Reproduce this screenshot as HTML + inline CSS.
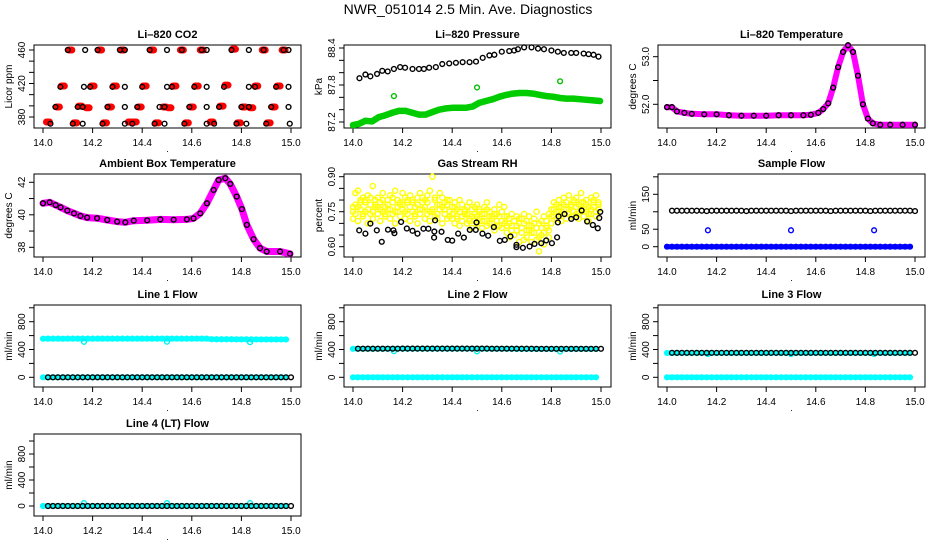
<!DOCTYPE html>
<html><head><meta charset="utf-8"><style>
html,body{margin:0;padding:0;background:#fff;}
svg{display:block;font-family:"Liberation Sans",sans-serif;}
</style></head><body>
<svg id="chart" width="936" height="540" viewBox="0 0 936 540">
<text x="468" y="14" text-anchor="middle" font-size="14">NWR_051014  2.5 Min. Ave. Diagnostics</text>
</svg>
<script>
// ---------- data ----------
const xTicks = [14.0,14.2,14.4,14.6,14.8,15.0];
const xTickLabels = ["14.0","14.2","14.4","14.6","14.8","15.0"];
const grid50 = [14.00,14.02,14.04,14.06,14.08,14.10,14.12,14.14,14.16,14.18,14.20,14.22,14.24,14.26,14.28,14.30,14.32,14.34,14.36,14.38,14.40,14.42,14.44,14.46,14.48,14.50,14.52,14.54,14.56,14.58,14.60,14.62,14.64,14.66,14.68,14.70,14.72,14.74,14.76,14.78,14.80,14.82,14.84,14.86,14.88,14.90,14.92,14.94,14.96,14.98];
const gridB = [14.02,14.04,14.06,14.08,14.10,14.12,14.14,14.16,14.18,14.20,14.22,14.24,14.26,14.28,14.30,14.32,14.34,14.36,14.38,14.40,14.42,14.44,14.46,14.48,14.50,14.52,14.54,14.56,14.58,14.60,14.62,14.64,14.66,14.68,14.70,14.72,14.74,14.76,14.78,14.80,14.82,14.84,14.86,14.88,14.90,14.92,14.94,14.96,14.98,15.00];
const outlierT = [14.165,14.5,14.835];

// CO2
const co2BlackT = [14.10,14.17,14.22,14.31,14.33,14.43,14.50,14.56,14.64,14.66,14.76,14.83,14.89,14.97,14.99,
 14.07,14.165,14.19,14.28,14.33,14.40,14.50,14.52,14.61,14.66,14.73,14.83,14.855,14.94,14.99,
 14.05,14.14,14.16,14.26,14.33,14.38,14.47,14.49,14.59,14.66,14.71,14.80,14.83,14.92,14.99,
 14.03,14.12,14.16,14.24,14.33,14.36,14.45,14.49,14.57,14.66,14.69,14.78,14.82,14.90,14.995];
const co2BlackV = [460,460,460,460,460,460,460,460,460,460,460,460,460,460,460,
 416,416,416,416,416,416,416,416,416,416,416,416,416,416,416,
 392,392,392,392,392,392,392,392,392,392,392,392,392,392,392,
 372,372,372,372,372,372,372,372,372,372,372,372,372,372,372];
const co2RedT = [14.10,14.22,14.31,14.43,14.55,14.63,14.76,14.88,14.96,
 14.07,14.19,14.28,14.40,14.52,14.61,14.73,14.85,14.94,
 14.05,14.14,14.17,14.26,14.38,14.48,14.50,14.59,14.71,14.80,14.83,14.92,
 14.01,14.12,14.24,14.34,14.36,14.45,14.57,14.67,14.78,14.90];
const co2RedV = [460,460,460,460,460,460,461,460,460,
 417,417,417,417,417,417,418,417,417,
 392,393,391,392,392,392,391,392,393,392,391,392,
 374,373,373,374,374,373,373,374,373,373];

// Pressure
const presBlackT = [14.026,14.05,14.07,14.097,14.118,14.14,14.165,14.19,14.21,14.24,14.266,14.286,14.307,14.334,14.36,14.388,14.415,14.442,14.47,14.496,14.523,14.55,14.57,14.6,14.63,14.65,14.665,14.69,14.72,14.746,14.77,14.8,14.826,14.85,14.88,14.9,14.93,14.95,14.97,14.99];
const presBlackV = [87.91,87.97,87.94,87.98,88.03,88.02,88.06,88.09,88.08,88.06,88.06,88.06,88.08,88.09,88.14,88.15,88.16,88.17,88.17,88.18,88.24,88.28,88.29,88.34,88.35,88.36,88.38,88.41,88.41,88.39,88.38,88.36,88.34,88.32,88.32,88.32,88.31,88.30,88.29,88.26];
const presGreenT = [14.0,14.023,14.05,14.077,14.104,14.131,14.158,14.185,14.212,14.239,14.266,14.293,14.32,14.347,14.374,14.401,14.428,14.455,14.482,14.509,14.536,14.564,14.591,14.618,14.645,14.672,14.699,14.726,14.753,14.78,14.807,14.834,14.86,14.888,14.915,14.942,14.969,14.996];
const presGreenV = [87.15,87.17,87.22,87.21,87.28,87.31,87.35,87.38,87.38,87.35,87.32,87.32,87.36,87.40,87.42,87.43,87.43,87.43,87.45,87.51,87.54,87.57,87.61,87.64,87.66,87.67,87.67,87.66,87.64,87.62,87.61,87.59,87.58,87.58,87.57,87.56,87.55,87.54];
const presGreenOutV = [87.62,87.76,87.86];

// Li-820 temperature
const tempT = [14.00,14.02,14.04,14.07,14.10,14.15,14.20,14.25,14.30,14.35,14.40,14.45,14.50,14.55,14.58,14.61,14.63,14.65,14.67,14.69,14.71,14.73,14.75,14.77,14.79,14.81,14.83,14.86,14.90,14.95,15.00];
const tempV = [51.94,51.94,51.85,51.82,51.80,51.79,51.79,51.77,51.76,51.76,51.76,51.77,51.77,51.77,51.78,51.82,51.90,52.02,52.35,52.78,53.10,53.24,53.10,52.60,52.00,51.70,51.60,51.57,51.57,51.57,51.57];

// Ambient temperature
const ambT = [14.0,14.027,14.051,14.071,14.098,14.125,14.151,14.178,14.218,14.259,14.299,14.332,14.366,14.42,14.473,14.527,14.58,14.607,14.634,14.661,14.688,14.708,14.735,14.755,14.781,14.802,14.822,14.849,14.875,14.902,14.956,14.996];
const ambV = [40.71,40.77,40.6,40.46,40.26,40.09,39.93,39.83,39.79,39.68,39.58,39.54,39.64,39.66,39.72,39.7,39.72,39.78,40.09,40.71,41.53,42.14,42.25,41.9,41.12,40.35,39.38,38.5,37.95,37.74,37.74,37.6];

// RH
const rhT = [14.00,14.01,14.02,14.03,14.04,14.05,14.06,14.07,14.08,14.09,14.10,14.11,14.12,14.13,14.14,14.15,14.16,14.17,14.18,14.19,14.20,14.21,14.22,14.23,14.24,14.25,14.26,14.27,14.28,14.29,14.30,14.31,14.32,14.33,14.34,14.35,14.36,14.37,14.38,14.39,14.40,14.41,14.42,14.43,14.44,14.45,14.46,14.47,14.48,14.49,14.50,14.51,14.52,14.53,14.54,14.55,14.56,14.57,14.58,14.59,14.60,14.61,14.62,14.63,14.64,14.65,14.66,14.67,14.68,14.69,14.70,14.71,14.72,14.73,14.74,14.75,14.76,14.77,14.78,14.79,14.80,14.81,14.82,14.83,14.84,14.85,14.86,14.87,14.88,14.89,14.90,14.91,14.92,14.93,14.94,14.95,14.96,14.97,14.98,14.99];
const rhYellowA = [.77,.83,.84,.80,.81,.79,.82,.78,.86,.80, .81,.79,.83,.77,.80,.82,.79,.84,.80,.78, .83,.81,.79,.82,.80,.77,.81,.83,.79,.80, .82,.84,.90,.80,.78,.83,.81,.79,.78,.80, .77,.79,.76,.80,.78,.75,.77,.79,.76,.74, .78,.76,.74,.77,.79,.75,.73,.76,.74,.78, .75,.77,.73,.72,.74,.71,.73,.70,.72,.74, .71,.73,.69,.72,.75,.70,.68,.73,.71,.74, .76,.79,.78,.80,.77,.81,.79,.82,.78,.80, .81,.78,.83,.79,.80,.77,.81,.79,.82,.78];
const rhYellowB = [.72,.74,.71,.76,.73,.75,.70,.74,.72,.77, .74,.71,.75,.73,.76,.72,.74,.70,.75,.73, .76,.72,.74,.71,.75,.73,.70,.74,.76,.72, .74,.71,.75,.73,.72,.76,.70,.74,.72,.73, .72,.70,.73,.69,.71,.74,.70,.72,.68,.71, .70,.72,.68,.71,.69,.73,.70,.67,.71,.69, .68,.70,.66,.64,.69,.65,.67,.62,.66,.63, .64,.67,.62,.66,.63,.58,.65,.61,.68,.64, .70,.73,.72,.75,.71,.74,.72,.76,.73,.75, .74,.72,.76,.73,.75,.71,.74,.77,.73,.76];
const rhYellowC = [.75,.78,.77,.79,.74,.80,.76,.81,.75,.78, .77,.76,.80,.74,.78,.76,.81,.75,.77,.79, .78,.75,.80,.77,.79,.74,.78,.76,.81,.77, .79,.75,.76,.81,.74,.78,.77,.76,.80,.75, .74,.77,.72,.75,.73,.76,.74,.71,.73,.77, .73,.75,.71,.74,.76,.70,.72,.74,.69,.73, .71,.73,.69,.70,.67,.71,.69,.72,.68,.70, .67,.69,.66,.70,.68,.64,.71,.66,.69,.67, .73,.76,.75,.77,.74,.78,.76,.74,.77,.79, .77,.75,.79,.76,.78,.74,.76,.80,.75,.79];
const rhBlackT = [14.025,14.05,14.07,14.096,14.116,14.141,14.163,14.167,14.194,14.217,14.24,14.26,14.284,14.304,14.327,14.328,14.331,14.357,14.382,14.4,14.424,14.447,14.471,14.495,14.498,14.522,14.545,14.568,14.592,14.612,14.635,14.659,14.659,14.685,14.712,14.732,14.759,14.779,14.802,14.823,14.826,14.829,14.853,14.88,14.9,14.922,14.944,14.967,14.987,14.993,14.997];
const rhBlackV = [0.670,0.656,0.699,0.670,0.621,0.673,0.670,0.658,0.706,0.678,0.668,0.656,0.677,0.677,0.639,0.665,0.713,0.664,0.629,0.626,0.656,0.639,0.672,0.672,0.704,0.656,0.647,0.684,0.625,0.629,0.644,0.608,0.598,0.595,0.601,0.612,0.615,0.627,0.615,0.640,0.704,0.730,0.740,0.719,0.726,0.755,0.708,0.693,0.679,0.723,0.749];

// Sample flow
const sampleBlackV = [103,103,103,103,103,103,103,102,103,103,103,103,103,103,103,102,103,103,103,103,103,103,103,103,102,103,103,103,103,103,103,103,102,103,103,103,103,103,103,103,102,103,103,103,103,103,103,103,103,102];
const sampleBlueV = [0,0,0,0,0,0,0,0,0,0,0,0,0,0,0,0,0,0,0,0,0,0,0,0,0,0,0,0,0,0,0,0,0,0,0,0,0,0,0,0,0,0,0,0,0,0,0,0,0,0];
const sampleBlueOutV = [47,47,47];

// Line flows
const zeros50 = [0,0,0,0,0,0,0,0,0,0,0,0,0,0,0,0,0,0,0,0,0,0,0,0,0,0,0,0,0,0,0,0,0,0,0,0,0,0,0,0,0,0,0,0,0,0,0,0,0,0];
const line1CyanV = [555,556,556,556,555,556,556,556,556,556,556,556,556,556,556,556,557,556,556,556,556,556,556,556,556,556,556,556,556,556,556,557,556,556,548,547,547,547,547,546,546,546,546,545,545,545,545,545,545,545];
const line1CyanOutV = [510,512,505];
const line2BlackV = [412,412,412,412,412,412,412,412,412,413,413,413,413,413,413,413,413,413,413,413,413,413,413,413,413,413,413,412,412,412,412,412,412,411,411,411,410,410,410,410,410,410,410,410,410,410,410,410,410,410];
const line2CyanV = [410,410,410,410,410,410,410,410,410,411,411,411,411,411,411,411,411,411,411,411,411,411,411,411,411,411,411,410,410,410,410,410,410,409,409,409,408,408,408,408,408,408,408,408,408,408,408,408,408,408];
const line2CyanOutV = [375,372,370];
const line3BlackV = [352,352,352,352,352,352,352,352,352,352,352,352,352,352,352,352,352,352,352,352,352,352,352,352,352,352,352,352,352,352,352,352,352,352,352,352,352,352,352,352,352,352,352,352,352,352,352,352,352,352];
const line3CyanV = [350,350,350,350,350,350,350,350,350,350,350,350,350,350,350,350,350,350,350,350,350,350,350,350,350,350,350,350,350,350,350,350,350,350,350,350,350,350,350,350,350,350,350,350,350,350,350,350,350,350];
const line3CyanOutV = [335,335,335];
const line4CyanOutV = [45,45,45];

// ---------- drawing ----------
const NS = "http://www.w3.org/2000/svg";
const svg = document.getElementById("chart");
function mk(tag, attrs, parent){
  const e = document.createElementNS(NS, tag);
  for (const k in attrs) e.setAttribute(k, attrs[k]);
  (parent||svg).appendChild(e);
  return e;
}
const colLeft = [34,344,658];
const rowTB = [[45,128],[174,257],[305,387],[434,516]];

function panel(name, title, col, row, yRef, yTicks, yLabels, yTitle){
  const L = colLeft[col], R = L+267, T = rowTB[row][0], B = rowTB[row][1];
  const g = mk("g", {});
  
  
  const sx = t => (L+9) + (t-14)*(248);
  const sy = v => yRef[1] + (v-yRef[0])*(yRef[3]-yRef[1])/(yRef[2]-yRef[0]);
  const box = mk("rect", {x:L, y:T, width:R-L, height:B-T, fill:"none", stroke:"#000", "stroke-width":1}, g);
  
  
  const tt = mk("text", {x:(L+R)/2, y:T-7, "text-anchor":"middle", "font-size":11, "font-weight":"bold"}, g);
  tt.textContent = title;
  
  
  xTicks.forEach((t,i)=>{
    const x = sx(t);
    const tk = mk("line", {x1:x, x2:x, y1:B, y2:B+5, stroke:"#000"}, g);
    
    
    const lb = mk("text", {x:x, y:B+18, "text-anchor":"middle", "font-size":10}, g);
    lb.textContent = xTickLabels[i];
    
    
  });
  const dot = mk("text", {x:(L+R)/2, y:B+24, "text-anchor":"middle", "font-size":9}, g);
  dot.textContent = ".";
  
  
  yTicks.forEach(v=>{
    const y = sy(v);
    const tk = mk("line", {x1:L-5, x2:L, y1:y, y2:y, stroke:"#000"}, g);
    
    
  });
  yLabels.forEach(s=>{
    const y = sy(parseFloat(s));
    const lb = mk("text", {x:0, y:0, "text-anchor":"middle", "font-size":10, transform:`translate(${L-9},${y}) rotate(-90)`}, g);
    lb.textContent = s;
    
    
  });
  const yt = mk("text", {x:0, y:0, "text-anchor":"middle", "font-size":10, transform:`translate(${L-22},${(T+B)/2}) rotate(-90)`}, g);
  yt.textContent = yTitle;
  
  
  return {g, sx, sy};
}

function points(p, ts, vs, color, name, opts){
  opts = opts || {};
  const g = mk("g", {}, p.g);
  
  
  if (opts.band){
    const d = ts.map((t,i)=>(i?"L":"M")+p.sx(t).toFixed(1)+" "+p.sy(vs[i]).toFixed(1)).join(" ");
    const path = mk("path", {d:d, fill:"none", stroke:color, "stroke-width":opts.band, "stroke-linejoin":"round", "stroke-linecap":"round"}, g);
    
    
  }
  ts.forEach((t,i)=>{
    const c = mk("circle", {cx:p.sx(t), cy:p.sy(vs[i]), r:opts.r||2.4, fill:opts.fill||"none", stroke:color, "stroke-width":opts.sw||1.4}, g);
    
    
  });
}

// Row 1
const p1 = panel("co2", "Li\u2013820 CO2", 0, 0, [380,117,460,50], [380,393.3,406.7,420,433.3,446.7,460], ["380","420","460"], "Licor ppm");
(function(){
  const g = mk("g", {}, p1.g);
  
  
  co2RedT.forEach((t,i)=>{
    const x = p1.sx(t), y = p1.sy(co2RedV[i]);
    const r = mk("rect", {x:x-2.5, y:y-3.5, width:10, height:7, rx:3.5, fill:"#f00"}, g);
    
    
  });
})();
points(p1, co2BlackT, co2BlackV, "#000", "co2-black-series");

const p2 = panel("pressure", "Li\u2013820 Pressure", 1, 0, [87.2,122,88.4,48], [87.2,87.4,87.6,87.8,88.0,88.2,88.4], ["87.2","87.8","88.4"], "kPa");
points(p2, presGreenT, presGreenV, "#00cc00", "pressure-green-series", {band:6.5});
points(p2, outlierT, presGreenOutV, "#00c000", "pressure-green-outliers");
points(p2, presBlackT, presBlackV, "#000", "pressure-black-series");

const p3 = panel("li820-temp", "Li\u2013820 Temperature", 2, 0, [52.0,104.3,53.0,56.7], [52.0,52.5,53.0], ["52.0","53.0"], "degrees C");
points(p3, tempT, tempV, "#f0f", "temp-magenta-series", {band:6});
points(p3, tempT, tempV, "#000", "temp-black-series");

// Row 2
const p4 = panel("ambient-temp", "Ambient Box Temperature", 0, 1, [38,247.3,42,182.3], [38,39,40,41,42], ["38","40","42"], "degrees C");
points(p4, ambT, ambV, "#f0f", "ambient-magenta-series", {band:7});
points(p4, ambT, ambV, "#000", "ambient-black-series");

const p5 = panel("rh", "Gas Stream RH", 1, 1, [0.60,246.7,0.90,176.7], [0.60,0.65,0.70,0.75,0.80,0.85,0.90], ["0.60","0.75","0.90"], "percent");
points(p5, rhT, rhYellowA, "#ff0", "rh-yellow-series-a", {r:2.6});
points(p5, rhT, rhYellowB, "#ff0", "rh-yellow-series-b", {r:2.6});
points(p5, rhT, rhYellowC, "#ff0", "rh-yellow-series-c", {r:2.6});
points(p5, rhBlackT, rhBlackV, "#000", "rh-black-series");

const p6 = panel("sample-flow", "Sample Flow", 2, 1, [0,246.7,150,194.3], [0,50,100,150,200], ["0","50","150"], "ml/min");
points(p6, grid50, sampleBlueV, "#00f", "sample-blue-series", {band:5});
points(p6, outlierT, sampleBlueOutV, "#00f", "sample-blue-outliers");
points(p6, gridB, sampleBlackV, "#000", "sample-black-series");

// Row 3
const flowTicks = [0,200,400,600,800,1000];
const flowLabels = ["0","400","800"];
const p7 = panel("line1-flow", "Line 1 Flow", 0, 2, [0,377.3,800,321.7], flowTicks, flowLabels, "ml/min");
points(p7, grid50, line1CyanV, "#0ff", "line1-cyan-series", {band:5});
points(p7, outlierT, line1CyanOutV, "#0ee", "line1-cyan-outliers");
points(p7, grid50, zeros50, "#0ff", "line1-cyan-zero-series", {band:5});
points(p7, gridB, zeros50, "#000", "line1-black-series");

const p8 = panel("line2-flow", "Line 2 Flow", 1, 2, [0,377.3,800,321.7], flowTicks, flowLabels, "ml/min");
points(p8, grid50, line2CyanV, "#0ff", "line2-cyan-series", {band:5});
points(p8, outlierT, line2CyanOutV, "#0ee", "line2-cyan-outliers");
points(p8, grid50, zeros50, "#0ff", "line2-cyan-zero-series", {band:5});
points(p8, gridB, line2BlackV, "#000", "line2-black-series");

const p9 = panel("line3-flow", "Line 3 Flow", 2, 2, [0,377.3,800,321.7], flowTicks, flowLabels, "ml/min");
points(p9, grid50, line3CyanV, "#0ff", "line3-cyan-series", {band:5});
points(p9, outlierT, line3CyanOutV, "#0ee", "line3-cyan-outliers");
points(p9, grid50, zeros50, "#0ff", "line3-cyan-zero-series", {band:5});
points(p9, gridB, line3BlackV, "#000", "line3-black-series");

// Row 4
const p10 = panel("line4-flow", "Line 4 (LT) Flow", 0, 3, [0,506,800,454], flowTicks, flowLabels, "ml/min");
points(p10, grid50, zeros50, "#0ff", "line4-cyan-series", {band:5});
points(p10, outlierT, line4CyanOutV, "#0ee", "line4-cyan-outliers");
points(p10, gridB, zeros50, "#000", "line4-black-series");
</script>
</body></html>
